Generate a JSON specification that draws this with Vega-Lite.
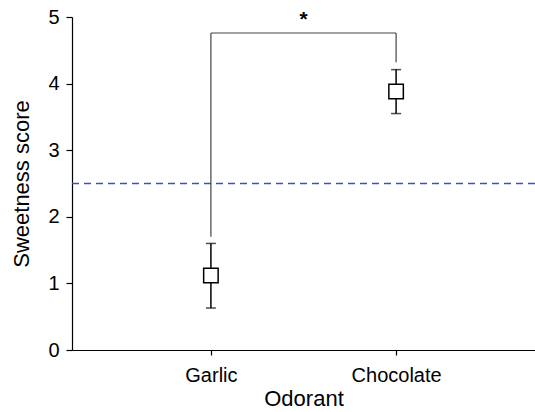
{
  "$schema": "https://vega.github.io/schema/vega-lite/v6.json",
  "width": 463,
  "height": 333,
  "autosize": {"type": "none"},
  "padding": {"left": 72, "top": 17, "right": 0, "bottom": 62},
  "config": {
    "view": {"stroke": null},
    "font": "Liberation Sans",
    "axis": {"grid": false, "domainColor": "black", "tickColor": "black", "labelColor": "black", "titleColor": "black", "titleFontWeight": "normal", "domainWidth": 1.2, "tickWidth": 1.2}
  },
  "datasets": {
    "groups": [
      {"odorant": "Garlic", "pos": 1, "mean": 1.12, "lo": 0.63, "hi": 1.6},
      {"odorant": "Chocolate", "pos": 2, "mean": 3.88, "lo": 3.55, "hi": 4.21}
    ],
    "bracketV": [
      {"pos": 1, "from": 1.7, "to": 4.76},
      {"pos": 2, "from": 4.32, "to": 4.76}
    ],
    "bracketH": [
      {"pos": 1, "pos2": 2, "level": 4.76}
    ],
    "star": [
      {"pos": 1.5, "level": 4.87, "label": "*"}
    ],
    "chance": [
      {"level": 2.5}
    ]
  },
  "layer": [
    {
      "data": {"name": "chance"},
      "mark": {"type": "rule", "stroke": "#3a50c4", "color": "#3a50c4", "strokeDash": [7, 5], "strokeWidth": 1.3},
      "encoding": {
        "y": {"field": "level", "type": "quantitative", "scale": {"domain": [0, 5], "nice": false},
          "axis": {"values": [0, 0.5, 1, 1.5, 2, 2.5, 3, 3.5, 4, 4.5, 5],
            "labelExpr": "datum.value % 1 === 0 ? format(datum.value, 'd') : ''",
            "tickSize": {"condition": {"test": "datum.value % 1 === 0", "value": 6}, "value": 3},
            "title": "Sweetness score", "titleFontSize": 22, "labelFontSize": 20, "labelPadding": 7, "titlePadding": 14}}
      }
    },
    {
      "data": {"name": "bracketV"},
      "mark": {"type": "rule", "color": "#444444", "strokeWidth": 1.2},
      "encoding": {
        "x": {"field": "pos", "type": "quantitative", "scale": {"domain": [0.25, 2.75], "nice": false, "zero": false},
          "axis": {"values": [1, 2], "labelExpr": "datum.value == 1 ? 'Garlic' : 'Chocolate'", "title": "Odorant", "titleFontSize": 22, "labelFontSize": 20, "tickSize": 5, "labelPadding": 10, "titlePadding": 3}},
        "y": {"field": "from", "type": "quantitative"},
        "y2": {"field": "to"}
      }
    },
    {
      "data": {"name": "bracketH"},
      "mark": {"type": "rule", "color": "#444444", "strokeWidth": 1.2},
      "encoding": {
        "x": {"field": "pos", "type": "quantitative"},
        "x2": {"field": "pos2"},
        "y": {"field": "level", "type": "quantitative"}
      }
    },
    {
      "data": {"name": "groups"},
      "mark": {"type": "rule", "color": "black", "strokeWidth": 1.5},
      "encoding": {
        "x": {"field": "pos", "type": "quantitative"},
        "y": {"field": "lo", "type": "quantitative"},
        "y2": {"field": "hi"}
      }
    },
    {
      "data": {"name": "groups"},
      "mark": {"type": "tick", "orient": "horizontal", "color": "black", "size": 10, "thickness": 1.5},
      "encoding": {
        "x": {"field": "pos", "type": "quantitative"},
        "y": {"field": "lo", "type": "quantitative"}
      }
    },
    {
      "data": {"name": "groups"},
      "mark": {"type": "tick", "orient": "horizontal", "color": "black", "size": 10, "thickness": 1.5},
      "encoding": {
        "x": {"field": "pos", "type": "quantitative"},
        "y": {"field": "hi", "type": "quantitative"}
      }
    },
    {
      "data": {"name": "groups"},
      "mark": {"type": "point", "shape": "square", "size": 210, "filled": true, "fill": "white", "stroke": "black", "strokeWidth": 1.5, "opacity": 1},
      "encoding": {
        "x": {"field": "pos", "type": "quantitative"},
        "y": {"field": "mean", "type": "quantitative"}
      }
    },
    {
      "data": {"name": "star"},
      "mark": {"type": "text", "fontSize": 21, "fontWeight": "bold", "color": "black", "baseline": "alphabetic", "align": "center"},
      "encoding": {
        "x": {"field": "pos", "type": "quantitative"},
        "y": {"field": "level", "type": "quantitative"},
        "text": {"field": "label"}
      }
    }
  ]
}
